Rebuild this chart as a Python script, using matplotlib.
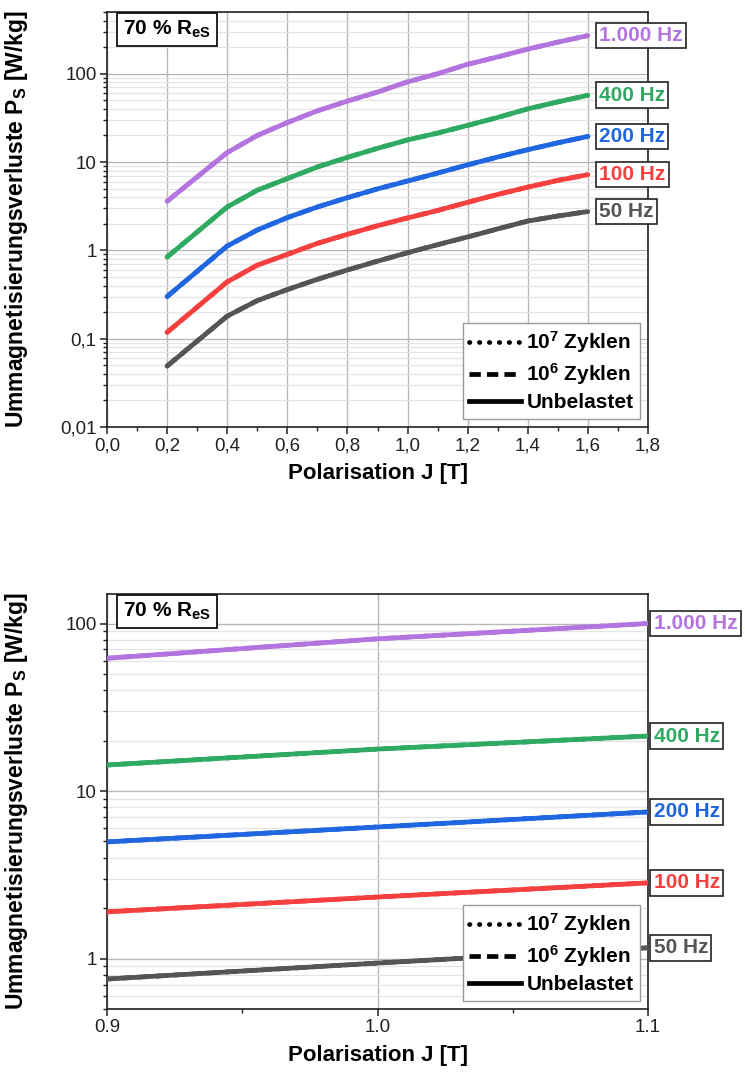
import matplotlib
matplotlib.use("Agg")
import matplotlib.pyplot as plt
from matplotlib.lines import Line2D
from matplotlib.ticker import (FixedLocator, FixedFormatter, LogLocator,
                               NullFormatter, MultipleLocator, FuncFormatter)

plt.rcParams['font.family'] = ['Liberation Sans', 'DejaVu Sans']
plt.rcParams['mathtext.fontset'] = 'custom'
plt.rcParams['mathtext.rm'] = 'Liberation Sans'
plt.rcParams['mathtext.bf'] = 'Liberation Sans:bold'
plt.rcParams['mathtext.it'] = 'Liberation Sans:bold'
plt.rcParams['mathtext.default'] = 'bf'

# Polarisation J [T]
polarisation = [0.2, 0.4, 0.5, 0.6, 0.7, 0.8, 0.9, 1.0, 1.1, 1.2, 1.3, 1.4, 1.5, 1.6]

# Ummagnetisierungsverluste P_S [W/kg]
loss_1000hz = [3.6, 12.8, 20.0, 28.0, 38.0, 49.0, 62.0, 81.0, 100.0, 128.0, 155.0, 190.0, 228.0, 270.0]
loss_400hz = [0.84, 3.1, 4.8, 6.5, 8.8, 11.3, 14.3, 17.8, 21.3, 26.0, 32.0, 40.0, 48.0, 57.0]
loss_200hz = [0.30, 1.12, 1.7, 2.35, 3.1, 3.95, 4.97, 6.1, 7.5, 9.3, 11.4, 13.8, 16.5, 19.5]
loss_100hz = [0.118, 0.44, 0.68, 0.90, 1.2, 1.52, 1.90, 2.33, 2.83, 3.5, 4.3, 5.2, 6.2, 7.2]
loss_50hz = [0.049, 0.18, 0.27, 0.36, 0.47, 0.60, 0.755, 0.94, 1.16, 1.42, 1.75, 2.15, 2.45, 2.75]

series_labels = ['1.000 Hz', '400 Hz', '200 Hz', '100 Hz', '50 Hz']
series_values = [loss_1000hz, loss_400hz, loss_200hz, loss_100hz, loss_50hz]
series_colors = ['#b474e0', '#2eaa62', '#1f66e0', '#f5403f', '#555555']

load_states = ['10$^{7}$ Zyklen', '10$^{6}$ Zyklen', 'Unbelastet']
# line patterns for 10^7 cycles, 10^6 cycles and the unloaded state
load_dashes = [(0.1, 2.0), (2.4, 1.3), None]
load_caps = ['round', 'butt', 'butt']

MAJOR_GRID = '#b8b8b8'
MINOR_GRID = '#e4e4e4'


def comma(v, _pos=None):
    return f"{v:.1f}".replace('.', ',')


def styled_line(dashes, cap, **kw):
    line = Line2D([0], [0], **kw)
    if dashes is not None:
        line.set_dashes(dashes)
        line.set_dash_capstyle(cap)
    return line


def setup_axes(ax):
    for s in ax.spines.values():
        s.set_linewidth(1.2)
        s.set_color('#222222')
    ax.tick_params(which='major', direction='out', length=5, width=1.1,
                   labelsize=13.5, pad=2.5, colors='#222222')
    ax.tick_params(which='minor', direction='out', length=3, width=1.0,
                   colors='#222222')
    ax.tick_params(axis='y', which='minor', left=True)
    ax.grid(True, which='major', color=MAJOR_GRID, lw=1.0, zorder=0)
    ax.grid(True, axis='y', which='minor', color=MINOR_GRID, lw=0.9, zorder=0)
    ax.set_axisbelow(True)
    ax.set_xlabel('Polarisation J [T]', fontsize=16, fontweight='bold', labelpad=6)
    ax.set_ylabel('Ummagnetisierungsverluste P$_{S}$ [W/kg]', fontsize=16.5,
                  fontweight='bold')
    ax.yaxis.set_label_coords(-0.143, 0.5)
    ax.text(0.029, 0.983, '70 % R$_{eS}$', transform=ax.transAxes,
            fontsize=15, fontweight='bold', ha='left', va='top', zorder=6,
            bbox=dict(boxstyle='square,pad=0.28', fc='white', ec='#111111', lw=1.3))


def draw_curves(ax, x_end, label_offset):
    for values, color, name in zip(series_values, series_colors, series_labels):
        for dashes, cap in zip(load_dashes[::-1], load_caps[::-1]):
            line, = ax.plot(polarisation, values, color=color, lw=3.4,
                            solid_capstyle='round', zorder=3)
            if dashes is not None:
                line.set_dashes(dashes)
                line.set_dash_capstyle(cap)
        end_value = values[polarisation.index(x_end)]
        ax.annotate(name, xy=(x_end, end_value), xytext=(label_offset, 0),
                    textcoords='offset points', ha='left', va='center',
                    fontsize=15, fontweight='bold', color=color,
                    annotation_clip=False, zorder=7,
                    bbox=dict(boxstyle='square,pad=0.16', fc='white',
                              ec='#222222', lw=1.2))


def add_legend(ax):
    handles = [styled_line(d, c, color='black', lw=3.4)
               for d, c in zip(load_dashes, load_caps)]
    leg = ax.legend(handles, load_states, loc='lower right',
                    prop={'weight': 'bold', 'size': 15}, handlelength=2.5,
                    handletextpad=0.25, labelspacing=0.3, borderpad=0.3,
                    borderaxespad=0.4, fancybox=False, framealpha=1.0,
                    edgecolor='#999999')
    leg.get_frame().set_linewidth(1.0)
    leg.set_zorder(8)


fig = plt.figure(figsize=(7.45, 10.84), dpi=100)
ax_top = fig.add_axes([107 / 745, 1 - 427 / 1084, 541 / 745, 415 / 1084])
ax_bot = fig.add_axes([107 / 745, 1 - 1009 / 1084, 541 / 745, 415 / 1084])

# Full range
setup_axes(ax_top)
draw_curves(ax_top, 1.6, 8)
ax_top.set_yscale('log')
ax_top.set_xlim(0.0, 1.8)
ax_top.set_ylim(0.01, 500)
ax_top.xaxis.set_major_locator(MultipleLocator(0.2))
ax_top.xaxis.set_minor_locator(MultipleLocator(0.1))
ax_top.xaxis.set_major_formatter(FuncFormatter(comma))
ax_top.yaxis.set_major_locator(FixedLocator([0.01, 0.1, 1, 10, 100]))
ax_top.yaxis.set_major_formatter(FixedFormatter(['0,01', '0,1', '1', '10', '100']))
ax_top.yaxis.set_minor_locator(LogLocator(base=10, subs=range(2, 10), numticks=20))
ax_top.yaxis.set_minor_formatter(NullFormatter())
add_legend(ax_top)

# Detail around J = 1 T
setup_axes(ax_bot)
draw_curves(ax_bot, 1.1, 4)
ax_bot.set_yscale('log')
ax_bot.set_xlim(0.9, 1.1)
ax_bot.set_ylim(0.5, 150)
ax_bot.xaxis.set_major_locator(FixedLocator([0.9, 1.0, 1.1]))
ax_bot.xaxis.set_major_formatter(FixedFormatter(['0.9', '1.0', '1.1']))
ax_bot.xaxis.set_minor_locator(FixedLocator([0.95, 1.05]))
ax_bot.yaxis.set_major_locator(FixedLocator([1, 10, 100]))
ax_bot.yaxis.set_major_formatter(FixedFormatter(['1', '10', '100']))
ax_bot.yaxis.set_minor_locator(LogLocator(base=10, subs=range(2, 10), numticks=20))
ax_bot.yaxis.set_minor_formatter(NullFormatter())
add_legend(ax_bot)

fig.savefig('out.png', dpi=100, facecolor='white')
